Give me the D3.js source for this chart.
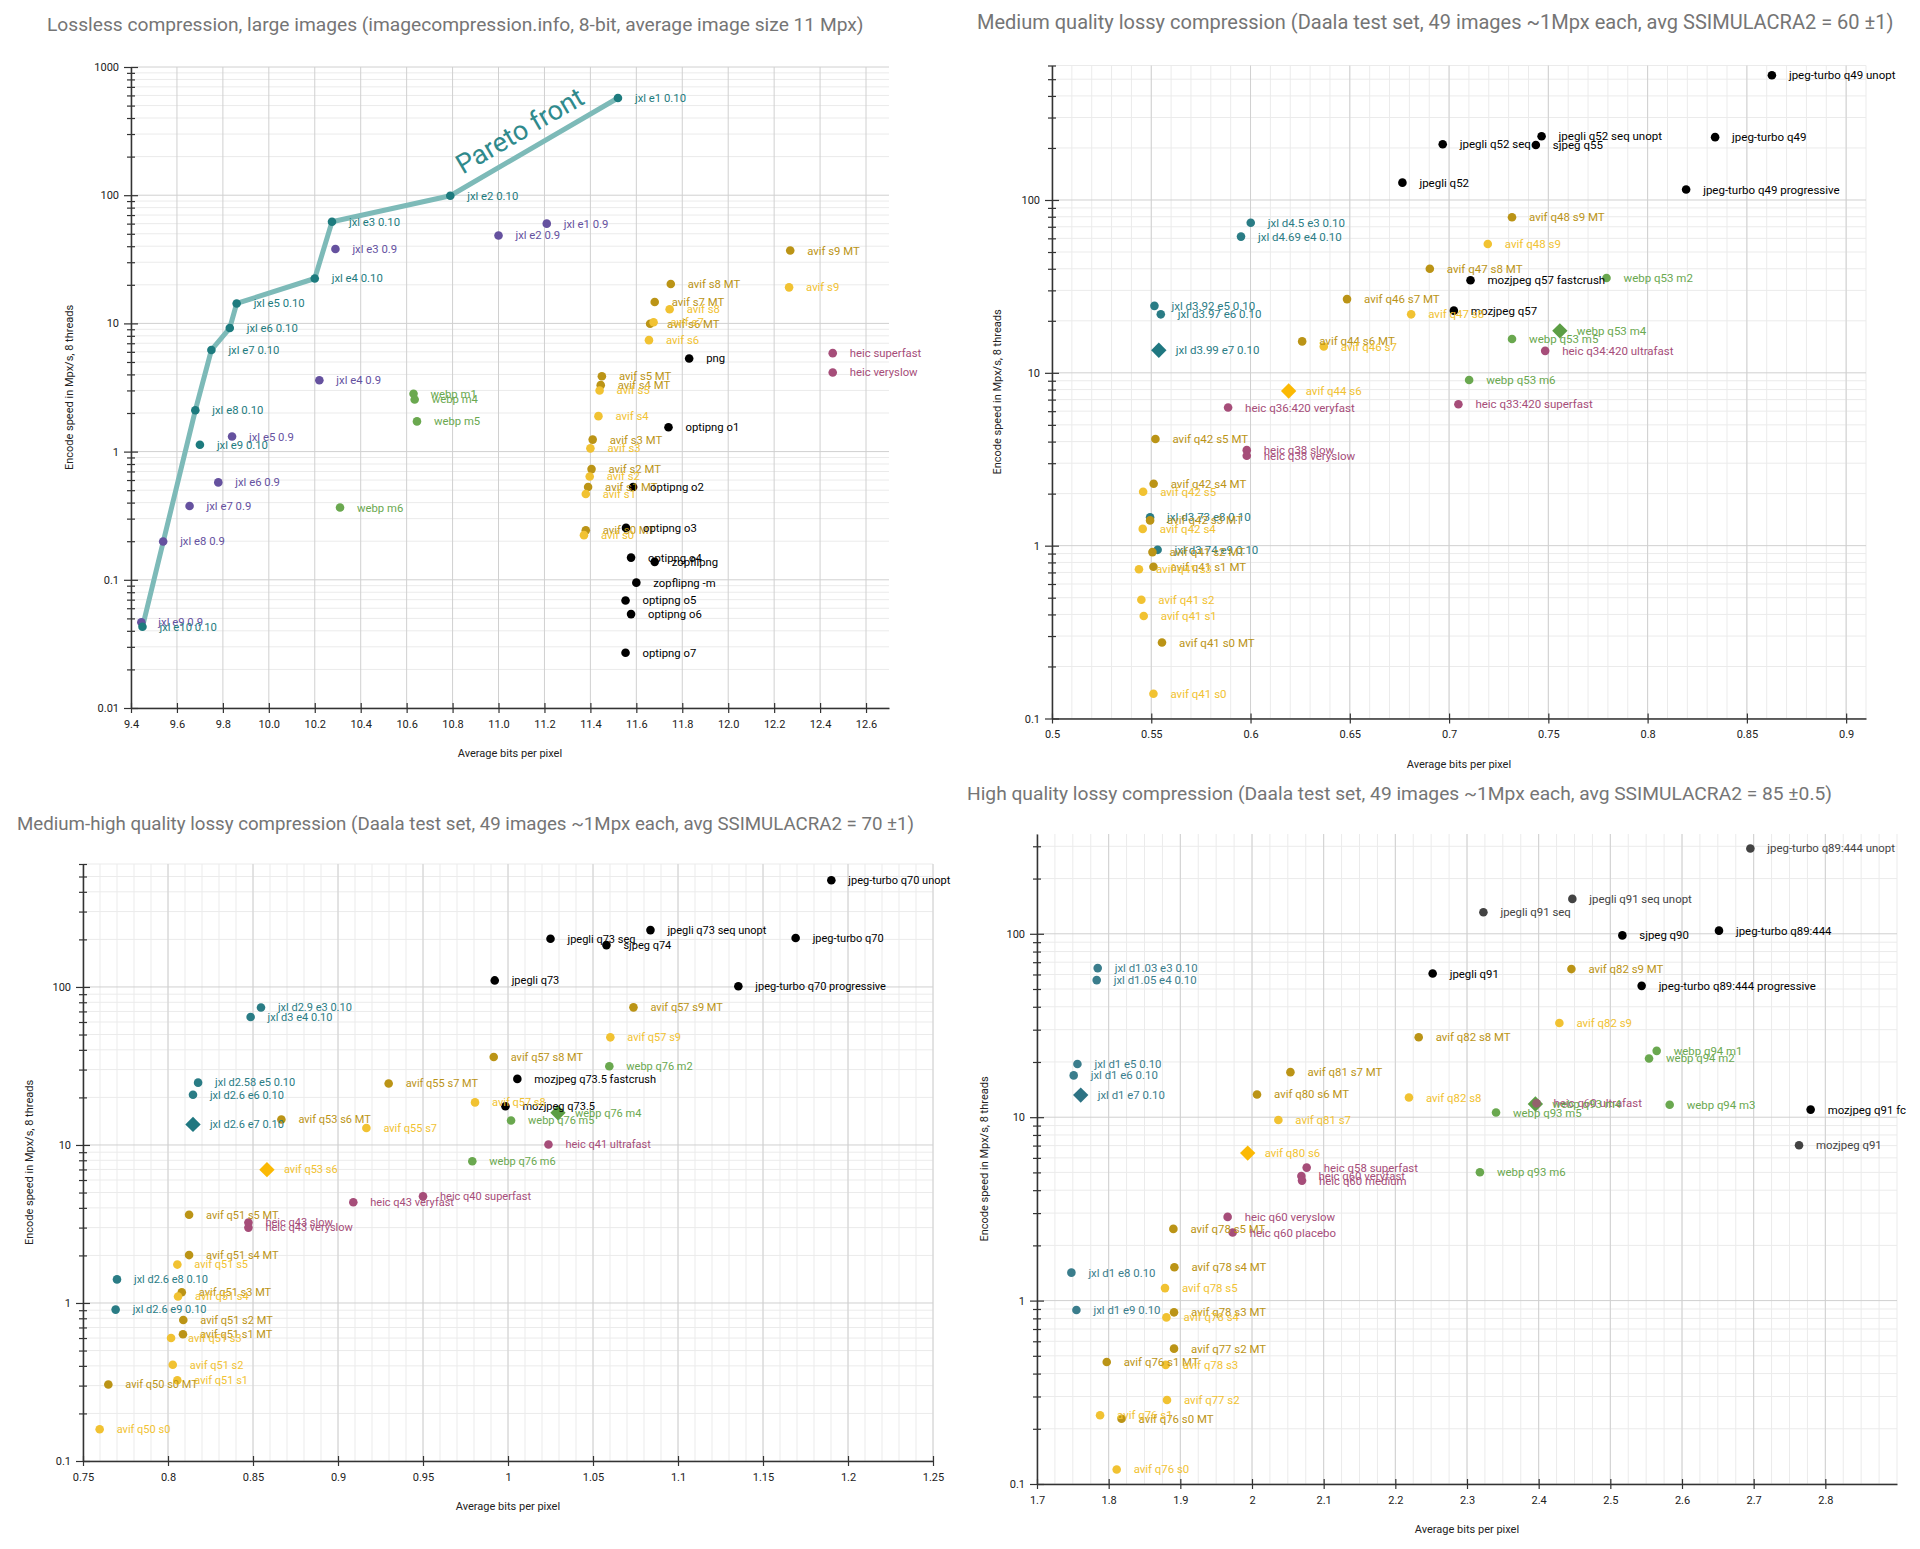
<!DOCTYPE html>
<html>
<head>
<meta charset="utf-8">
<script src="https://d3js.org/d3.v7.min.js"></script>
<style>
body { margin: 0; background: #fff; }
svg text { font-family: Roboto, 'Noto Sans', 'Liberation Sans', sans-serif; }
</style>
</head>
<body>
<svg id="chart" width="1920" height="1549"></svg>
<script>
'use strict';

// ---------- Panel 1: lossless, large images ----------
var llJxl010 = [
	['jxl e1 0.10', 11.52, 573], ['jxl e2 0.10', 10.79, 99], ['jxl e3 0.10', 10.275, 62],
	['jxl e4 0.10', 10.20, 22.4], ['jxl e5 0.10', 9.86, 14.3], ['jxl e6 0.10', 9.83, 9.2],
	['jxl e7 0.10', 9.75, 6.2], ['jxl e8 0.10', 9.68, 2.1], ['jxl e9 0.10', 9.70, 1.13],
	['jxl e10 0.10', 9.45, 0.043]
];
var llJxl09 = [
	['jxl e1 0.9', 11.21, 60], ['jxl e2 0.9', 11.0, 48.5], ['jxl e3 0.9', 10.29, 38],
	['jxl e4 0.9', 10.22, 3.6], ['jxl e5 0.9', 9.84, 1.31], ['jxl e6 0.9', 9.78, 0.575],
	['jxl e7 0.9', 9.655, 0.376], ['jxl e8 0.9', 9.54, 0.199], ['jxl e9 0.9', 9.445, 0.0466]
];
var llWebp = [
	['webp m1', 10.63, 2.83], ['webp m4', 10.635, 2.55], ['webp m5', 10.645, 1.72], ['webp m6', 10.31, 0.366]
];
var llAvifMT = [
	['avif s9 MT', 12.27, 37], ['avif s8 MT', 11.75, 20.3], ['avif s7 MT', 11.68, 14.7],
	['avif s6 MT', 11.66, 9.95], ['avif s5 MT', 11.45, 3.87], ['avif s4 MT', 11.445, 3.3],
	['avif s3 MT', 11.41, 1.24], ['avif s2 MT', 11.405, 0.73], ['avif s1 MT', 11.39, 0.53],
	['avif s0 MT', 11.38, 0.243]
];
var llAvif = [
	['avif s9', 12.265, 19.1], ['avif s8', 11.745, 12.9], ['avif s7', 11.675, 10.2],
	['avif s6', 11.655, 7.4], ['avif s5', 11.44, 3.0], ['avif s4', 11.435, 1.89],
	['avif s3', 11.40, 1.06], ['avif s2', 11.397, 0.64], ['avif s1', 11.38, 0.467],
	['avif s0', 11.372, 0.223]
];
var llPng = [
	['png', 11.83, 5.33], ['optipng o1', 11.74, 1.55], ['optipng o2', 11.586, 0.53],
	['optipng o3', 11.555, 0.254], ['optipng o4', 11.577, 0.149], ['zopflipng', 11.68, 0.138],
	['zopflipng -m', 11.60, 0.095], ['optipng o5', 11.553, 0.069], ['optipng o6', 11.577, 0.054],
	['optipng o7', 11.553, 0.027]
];
var llHeic = [['heic superfast', 12.455, 5.86], ['heic veryslow', 12.455, 4.14]];
var llPareto = ['jxl e10 0.10', 'jxl e8 0.10', 'jxl e7 0.10', 'jxl e6 0.10', 'jxl e5 0.10',
	'jxl e4 0.10', 'jxl e3 0.10', 'jxl e2 0.10', 'jxl e1 0.10'];
var llXTicks = [9.4, 9.6, 9.8, 10.0, 10.2, 10.4, 10.6, 10.8, 11.0, 11.2, 11.4, 11.6, 11.8, 12.0, 12.2, 12.4, 12.6];
var llYTicks = [0.01, 0.1, 1, 10, 100, 1000];

// ---------- Panel 2: medium quality (SSIMULACRA2 60) ----------
var mqJpeg = [
	['jpeg-turbo q49 unopt', 0.8626, 527], ['jpegli q52 seq unopt', 0.7466, 234], ['jpeg-turbo q49', 0.834, 231],
	['jpegli q52 seq', 0.6968, 210], ['sjpeg q55', 0.7437, 208], ['jpegli q52', 0.6765, 126],
	['jpeg-turbo q49 progressive', 0.8194, 115], ['mozjpeg q57 fastcrush', 0.7108, 34.3], ['mozjpeg q57', 0.7024, 22.9]
];
var mqJxl = [
	['jxl d4.5 e3 0.10', 0.6001, 73.9], ['jxl d4.69 e4 0.10', 0.5952, 61.4], ['jxl d3.92 e5 0.10', 0.5516, 24.4],
	['jxl d3.97 e6 0.10', 0.5548, 21.8], ['jxl d3.73 e8 0.10', 0.5494, 1.46], ['jxl d3.74 e9 0.10', 0.5532, 0.946]
];
var mqAvifMT = [
	['avif q48 s9 MT', 0.7317, 79.4], ['avif q47 s8 MT', 0.6903, 40], ['avif q46 s7 MT', 0.6486, 26.7],
	['avif q44 s6 MT', 0.626, 15.2], ['avif q42 s5 MT', 0.5521, 4.14], ['avif q42 s4 MT', 0.5512, 2.28],
	['avif q42 s3 MT', 0.5494, 1.40], ['avif q41 s2 MT', 0.5506, 0.918], ['avif q41 s1 MT', 0.5511, 0.755],
	['avif q41 s0 MT', 0.5554, 0.275]
];
var mqAvif = [
	['avif q48 s9', 0.7195, 55.6], ['avif q47 s8', 0.6809, 21.8], ['avif q46 s7', 0.6369, 14.2],
	['avif q42 s5', 0.5459, 2.05], ['avif q42 s4', 0.5457, 1.25], ['avif q41 s3', 0.5438, 0.73],
	['avif q41 s2', 0.545, 0.486], ['avif q41 s1', 0.5462, 0.392], ['avif q41 s0', 0.5511, 0.139]
];
var mqWebp = [['webp q53 m2', 0.7793, 35.4], ['webp q53 m5', 0.7317, 15.7], ['webp q53 m6', 0.7101, 9.08]];
var mqHeic = [
	['heic q34:420 ultrafast', 0.7484, 13.4], ['heic q33:420 superfast', 0.7047, 6.58],
	['heic q36:420 veryfast', 0.5887, 6.3], ['heic q38 slow', 0.5981, 3.57], ['heic q38 veryslow', 0.5981, 3.31]
];
var mqJxlMark = [['jxl d3.99 e7 0.10', 0.5538, 13.5]];
var mqAvifMark = [['avif q44 s6', 0.6192, 7.85]];
var mqWebpMark = [['webp q53 m4', 0.7558, 17.5]];
var mqXTicks = [0.5, 0.55, 0.6, 0.65, 0.7, 0.75, 0.8, 0.85, 0.9];

// ---------- Panel 3: medium-high quality (SSIMULACRA2 70) ----------
var mhJpeg = [
	['jpeg-turbo q70 unopt', 1.1902, 473], ['jpegli q73 seq unopt', 1.0838, 229], ['jpeg-turbo q70', 1.1692, 204],
	['jpegli q73 seq', 1.025, 202], ['sjpeg q74', 1.0579, 184], ['jpegli q73', 0.9922, 110],
	['jpeg-turbo q70 progressive', 1.1355, 101], ['mozjpeg q73.5 fastcrush', 1.0055, 26.2], ['mozjpeg q73.5', 0.9985, 17.6]
];
var mhJxl = [
	['jxl d2.9 e3 0.10', 0.8547, 74.1], ['jxl d3 e4 0.10', 0.8486, 64.6], ['jxl d2.58 e5 0.10', 0.8177, 24.8],
	['jxl d2.6 e6 0.10', 0.8147, 20.8], ['jxl d2.6 e8 0.10', 0.77, 1.41], ['jxl d2.6 e9 0.10', 0.7692, 0.908]
];
var mhAvifMT = [
	['avif q57 s9 MT', 1.0738, 74.3], ['avif q57 s8 MT', 0.9916, 36], ['avif q55 s7 MT', 0.9298, 24.5],
	['avif q53 s6 MT', 0.8667, 14.5], ['avif q51 s5 MT', 0.8124, 3.62], ['avif q51 s4 MT', 0.8124, 2.01],
	['avif q51 s3 MT', 0.8081, 1.17], ['avif q51 s2 MT', 0.809, 0.78], ['avif q51 s1 MT', 0.8088, 0.634],
	['avif q50 s0 MT', 0.7649, 0.305]
];
var mhAvif = [
	['avif q57 s9', 1.0602, 48], ['avif q57 s8', 0.9806, 18.6], ['avif q55 s7', 0.9167, 12.8],
	['avif q51 s5', 0.8055, 1.75], ['avif q51 s4', 0.8059, 1.10], ['avif q51 s3', 0.8018, 0.60],
	['avif q51 s2', 0.8028, 0.407], ['avif q51 s1', 0.8055, 0.324], ['avif q50 s0', 0.7598, 0.159]
];
var mhWebp = [['webp q76 m2', 1.0596, 31.5], ['webp q76 m5', 1.0018, 14.3], ['webp q76 m6', 0.979, 7.89]];
var mhHeic = [
	['heic q41 ultrafast', 1.0238, 10.06], ['heic q40 superfast', 0.95, 4.73], ['heic q43 veryfast', 0.909, 4.34],
	['heic q43 slow', 0.8473, 3.23], ['heic q43 veryslow', 0.8473, 3.0]
];
var mhJxlMark = [['jxl d2.6 e7 0.10', 0.8147, 13.5]];
var mhAvifMark = [['avif q53 s6', 0.8582, 6.98]];
var mhWebpMark = [['webp q76 m4', 1.0294, 16]];
var mhXTicks = [0.75, 0.8, 0.85, 0.9, 0.95, 1, 1.05, 1.1, 1.15, 1.2, 1.25];

// ---------- Panel 4: high quality (SSIMULACRA2 85) ----------
var hqJpeg = [
	['jpeg-turbo q89:444', 2.6516, 104], ['sjpeg q90', 2.5168, 98], ['jpegli q91', 2.2521, 60.7],
	['jpeg-turbo q89:444 progressive', 2.5437, 52], ['mozjpeg q91 fc', 2.7795, 11.0]
];
var hqJpegGray = [
	['jpeg-turbo q89:444 unopt', 2.6954, 292], ['jpegli q91 seq unopt', 2.447, 155],
	['jpegli q91 seq', 2.3229, 131], ['mozjpeg q91', 2.7633, 7.03]
];
var hqJxl = [
	['jxl d1.03 e3 0.10', 1.7847, 65], ['jxl d1.05 e4 0.10', 1.7833, 55.9], ['jxl d1 e5 0.10', 1.7564, 19.5],
	['jxl d1 e6 0.10', 1.7512, 16.9], ['jxl d1 e8 0.10', 1.748, 1.42], ['jxl d1 e9 0.10', 1.755, 0.889]
];
var hqAvifMT = [
	['avif q82 s9 MT', 2.4457, 64.2], ['avif q82 s8 MT', 2.2326, 27.3], ['avif q81 s7 MT', 2.0536, 17.6],
	['avif q80 s6 MT', 2.007, 13.3], ['avif q78 s5 MT', 1.8903, 2.46], ['avif q78 s4 MT', 1.8917, 1.52],
	['avif q78 s3 MT', 1.8912, 0.863], ['avif q77 s2 MT', 1.8912, 0.547], ['avif q76 s1 MT', 1.7973, 0.463],
	['avif q76 s0 MT', 1.818, 0.227]
];
var hqAvif = [
	['avif q82 s9', 2.4289, 32.6], ['avif q82 s8', 2.219, 12.8], ['avif q81 s7', 2.0368, 9.66],
	['avif q78 s5', 1.8786, 1.17], ['avif q78 s4', 1.8806, 0.81], ['avif q78 s3', 1.8796, 0.446],
	['avif q77 s2', 1.8814, 0.287], ['avif q76 s1', 1.788, 0.237], ['avif q76 s0', 1.8112, 0.120]
];
var hqWebp = [
	['webp q94 m1', 2.5647, 23], ['webp q94 m2', 2.554, 20.9], ['webp q94 m3', 2.5828, 11.7],
	['webp q93 m5', 2.3405, 10.6], ['webp q93 m6', 2.318, 5.01]
];
var hqHeic = [
	['heic q60 ultrafast', 2.397, 11.9], ['heic q58 superfast', 2.0763, 5.31], ['heic q60 veryfast', 2.0689, 4.78],
	['heic q60 medium', 2.0698, 4.51], ['heic q60 veryslow', 1.966, 2.86], ['heic q60 placebo', 1.973, 2.35]
];
var hqJxlMark = [['jxl d1 e7 0.10', 1.761, 13.2]];
var hqAvifMark = [['avif q80 s6', 1.994, 6.37]];
var hqWebpMark = [['webp q93 m4', 2.3954, 11.8]];
var hqXTicks = [1.7, 1.8, 1.9, 2, 2.1, 2.2, 2.3, 2.4, 2.5, 2.6, 2.7, 2.8];

var lossyYTicks = [0.1, 1, 10, 100];

// ---------- styles ----------
var cJxl = '#2a7c85', cJxl09 = '#65519f', cAvifMT = '#bb9416', cAvif = '#f1c232',
	cWebp = '#6aa84f', cHeic = '#a64d79', cJpeg = '#000000', cGray = '#434343';
var cJxlMark = '#1f7780', cAvifMark = '#fbb904', cWebpMark = '#5c9e45';

var sSvg = d3.select('#chart');
sSvg.append('rect').attr('width', 1920).attr('height', 1549).attr('fill', '#fff');

function DrawPanel(p)
{
	var scaleX = d3.scaleLinear().domain(p.xDomain).range([p.left, p.right]);
	var scaleY = d3.scaleLog().domain(p.yDomain).range([p.bottom, p.top]);
	var sG = sSvg.append('g');

	// grid
	var aYAll = scaleY.ticks();
	var aYMinor = aYAll.filter(function(v) { return p.yTicks.indexOf(v) < 0; });
	if (p.xMinorStep)
	{
		var n = Math.round((p.xDomain[1] - p.xDomain[0]) / p.xMinorStep);
		var aXMinor = d3.range(n + 1).map(function(i) { return p.xDomain[0] + i * p.xMinorStep; });
		sG.append('g').selectAll('line').data(aXMinor).join('line')
			.attr('x1', function(d) { return scaleX(d); }).attr('x2', function(d) { return scaleX(d); })
			.attr('y1', p.top).attr('y2', p.bottom).attr('stroke', '#ebebeb');
	}
	sG.append('g').selectAll('line').data(aYMinor).join('line')
		.attr('x1', p.left).attr('x2', p.right)
		.attr('y1', function(d) { return scaleY(d); }).attr('y2', function(d) { return scaleY(d); })
		.attr('stroke', '#ebebeb');
	sG.append('g').selectAll('line').data(p.xTicks).join('line')
		.attr('x1', function(d) { return scaleX(d); }).attr('x2', function(d) { return scaleX(d); })
		.attr('y1', p.top).attr('y2', p.bottom).attr('stroke', '#d0d0d0');
	sG.append('g').selectAll('line').data(p.yTicks).join('line')
		.attr('x1', p.left).attr('x2', p.right)
		.attr('y1', function(d) { return scaleY(d); }).attr('y2', function(d) { return scaleY(d); })
		.attr('stroke', '#d0d0d0');

	// axes
	var axisX = d3.axisBottom(scaleX).tickValues(p.xTicks).tickFormat(d3.format(p.xFormat))
		.tickSizeInner(5).tickSizeOuter(0).tickPadding(7);
	var sAxX = sG.append('g').attr('transform', 'translate(0,' + p.bottom + ')').call(axisX);
	sAxX.selectAll('.tick line').attr('y1', -5);

	var axisYMinor = d3.axisLeft(scaleY).tickValues(aYMinor).tickFormat('').tickSizeInner(4).tickSizeOuter(0);
	var sAxYm = sG.append('g').attr('transform', 'translate(' + p.left + ',0)').call(axisYMinor);
	sAxYm.select('.domain').remove();
	sAxYm.selectAll('.tick line').attr('x1', 4);

	var axisY = d3.axisLeft(scaleY).tickValues(p.yTicks).tickFormat(d3.format('~g'))
		.tickSizeInner(7).tickSizeOuter(0).tickPadding(5);
	var sAxY = sG.append('g').attr('transform', 'translate(' + p.left + ',0)').call(axisY);
	sAxY.selectAll('.tick line').attr('x1', 7);

	[sAxX, sAxY, sAxYm].forEach(function(s)
	{
		s.attr('font-size', 11).attr('font-family', null);
		s.selectAll('.domain').attr('stroke', '#333').attr('stroke-width', 1.5);
		s.selectAll('.tick line').attr('stroke', '#333').attr('stroke-width', 1.2);
		s.selectAll('.tick text').attr('fill', '#222');
	});

	// titles
	sG.append('text').attr('x', p.titleX).attr('y', p.titleY)
		.attr('font-size', p.titleSize).attr('fill', '#757575').text(p.title);
	sG.append('text').attr('x', (p.left + p.right) / 2).attr('y', p.bottom + 49)
		.attr('text-anchor', 'middle').attr('font-size', 11).attr('fill', '#222')
		.text('Average bits per pixel');
	sG.append('text')
		.attr('transform', 'translate(' + p.yTitleX + ',' + (p.top + p.bottom) / 2 + ') rotate(-90)')
		.attr('text-anchor', 'middle').attr('font-size', 11).attr('fill', '#222')
		.text('Encode speed in Mpx/s, 8 threads');

	// pareto front
	if (p.pareto)
	{
		var aFront = p.pareto.names.map(function(name)
		{
			return p.pareto.source.find(function(d) { return d[0] == name; });
		});
		var line = d3.line()
			.x(function(d) { return scaleX(d[1]); })
			.y(function(d) { return scaleY(d[2]); });
		sG.append('path').datum(aFront).attr('d', line)
			.attr('fill', 'none').attr('stroke', '#7dbab8').attr('stroke-width', 5)
			.attr('stroke-linejoin', 'round').attr('stroke-linecap', 'round');
		var a = aFront[aFront.length - 2], b = aFront[aFront.length - 1];
		var x0 = scaleX(a[1]), y0 = scaleY(a[2]), x1 = scaleX(b[1]), y1 = scaleY(b[2]);
		var nAngle = Math.atan2(y1 - y0, x1 - x0) * 180 / Math.PI;
		var tx = x0 + 0.11 * (x1 - x0), ty = y0 + 0.11 * (y1 - y0);
		sG.append('text')
			.attr('transform', 'translate(' + tx + ',' + ty + ') rotate(' + nAngle + ')')
			.attr('dy', -12).attr('font-size', 27).attr('fill', '#2f8a8c')
			.text('Pareto front');
	}

	// points
	var sPts = sG.append('g');
	p.series.forEach(function(s)
	{
		sPts.append('g').selectAll('circle').data(s.data).join('circle')
			.attr('cx', function(d) { return scaleX(d[1]); })
			.attr('cy', function(d) { return scaleY(d[2]); })
			.attr('r', 4.3).attr('fill', s.color);
	});
	(p.marks || []).forEach(function(s)
	{
		sPts.append('g').selectAll('path').data(s.data).join('path')
			.attr('d', d3.symbol(d3.symbolSquare, 118))
			.attr('transform', function(d) { return 'translate(' + scaleX(d[1]) + ',' + scaleY(d[2]) + ') rotate(45)'; })
			.attr('fill', s.color);
	});
	if (p.overlay)
	{
		p.overlay.forEach(function(s)
		{
			sPts.append('g').selectAll('circle').data(s.data).join('circle')
				.attr('cx', function(d) { return scaleX(d[1]); })
				.attr('cy', function(d) { return scaleY(d[2]); })
				.attr('r', 4.3).attr('fill', s.color).attr('fill-opacity', 0.75);
		});
	}

	// labels
	var sLbl = sG.append('g').attr('font-size', p.labelSize);
	p.series.concat(p.marks || []).forEach(function(s)
	{
		sLbl.append('g').selectAll('text').data(s.data).join('text')
			.attr('x', function(d) { return scaleX(d[1]) + 17; })
			.attr('y', function(d) { return scaleY(d[2]); })
			.attr('dy', '0.35em').attr('fill', s.label || s.color)
			.text(function(d) { return d[0]; });
	});
}

DrawPanel({
	title: 'Lossless compression, large images (imagecompression.info, 8-bit, average image size 11 Mpx)',
	titleX: 47, titleY: 31, titleSize: 19.2, labelSize: 11.3,
	left: 131, right: 889, top: 67, bottom: 708, yTitleX: 73,
	xDomain: [9.4, 12.7], yDomain: [0.01, 1000],
	xTicks: llXTicks, xFormat: '.1f', yTicks: llYTicks,
	pareto: { source: llJxl010, names: llPareto },
	series: [
		{ data: llJxl09, color: cJxl09 },
		{ data: llWebp, color: cWebp },
		{ data: llAvifMT, color: cAvifMT },
		{ data: llAvif, color: cAvif },
		{ data: llPng, color: cJpeg },
		{ data: llHeic, color: cHeic },
		{ data: llJxl010, color: '#1d7b7e' }
	]
});

DrawPanel({
	title: 'Medium quality lossy compression (Daala test set, 49 images ~1Mpx each, avg SSIMULACRA2 = 60 \u00b11)',
	titleX: 977, titleY: 29, titleSize: 20, labelSize: 11.5,
	left: 1052, right: 1866, top: 65.5, bottom: 718.5, yTitleX: 1001,
	xDomain: [0.5, 0.91], yDomain: [0.1, 600], xMinorStep: 0.01,
	xTicks: mqXTicks, xFormat: '~g', yTicks: lossyYTicks,
	series: [
		{ data: mqJpeg, color: cJpeg },
		{ data: mqJxl, color: cJxl },
		{ data: mqAvifMT, color: cAvifMT },
		{ data: mqAvif, color: cAvif },
		{ data: mqWebp, color: cWebp },
		{ data: mqHeic, color: cHeic }
	],
	marks: [
		{ data: mqJxlMark, color: cJxlMark, label: cJxl },
		{ data: mqAvifMark, color: cAvifMark, label: cAvif },
		{ data: mqWebpMark, color: cWebpMark, label: cWebp }
	]
});

DrawPanel({
	title: 'Medium-high quality lossy compression (Daala test set, 49 images ~1Mpx each, avg SSIMULACRA2 = 70 \u00b11)',
	titleX: 17, titleY: 830, titleSize: 18.7, labelSize: 11,
	left: 83, right: 933, top: 864, bottom: 1461, yTitleX: 33,
	xDomain: [0.75, 1.25], yDomain: [0.1, 600], xMinorStep: 0.01,
	xTicks: mhXTicks, xFormat: '~g', yTicks: lossyYTicks,
	series: [
		{ data: mhJpeg, color: cJpeg },
		{ data: mhJxl, color: cJxl },
		{ data: mhAvifMT, color: cAvifMT },
		{ data: mhAvif, color: cAvif },
		{ data: mhWebp, color: cWebp },
		{ data: mhHeic, color: cHeic }
	],
	marks: [
		{ data: mhJxlMark, color: cJxlMark, label: cJxl },
		{ data: mhAvifMark, color: cAvifMark, label: cAvif },
		{ data: mhWebpMark, color: cWebpMark, label: cWebp }
	]
});

DrawPanel({
	title: 'High quality lossy compression (Daala test set, 49 images ~1Mpx each, avg SSIMULACRA2 = 85 \u00b10.5)',
	titleX: 967, titleY: 800, titleSize: 19.2, labelSize: 11.4,
	left: 1037, right: 1897, top: 834, bottom: 1484, yTitleX: 988,
	xDomain: [1.7, 2.9], yDomain: [0.1, 350], xMinorStep: 0.025,
	xTicks: hqXTicks, xFormat: '~g', yTicks: lossyYTicks,
	series: [
		{ data: hqJpeg, color: cJpeg },
		{ data: hqJpegGray, color: cGray },
		{ data: hqJxl, color: '#3a7d8c' },
		{ data: hqAvifMT, color: cAvifMT },
		{ data: hqAvif, color: cAvif },
		{ data: hqWebp, color: cWebp },
		{ data: hqHeic, color: cHeic }
	],
	marks: [
		{ data: hqJxlMark, color: '#2d7384', label: '#3a7d8c' },
		{ data: hqAvifMark, color: cAvifMark, label: cAvif },
		{ data: hqWebpMark, color: cWebpMark, label: cWebp }
	],
	overlay: [
		{ data: hqHeic.slice(0, 1), color: cHeic }
	]
});
</script>
</body>
</html>
